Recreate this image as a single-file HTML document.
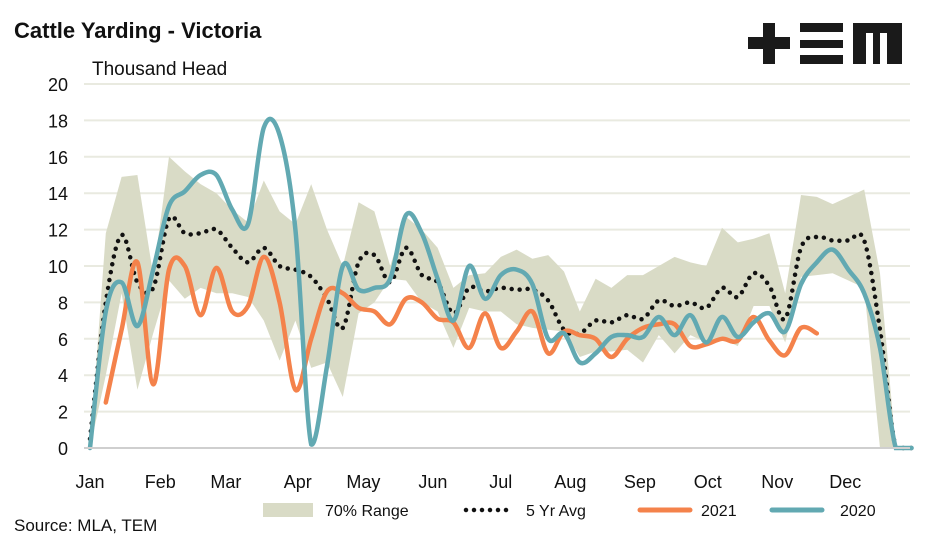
<!DOCTYPE html>
<html><head><meta charset="utf-8"><style>
body{margin:0;background:#fff;font-family:"Liberation Sans",sans-serif}
svg text{font-family:"Liberation Sans",sans-serif;fill:#111}
</style></head><body>
<svg width="947" height="543" viewBox="0 0 947 543">
<text x="14" y="38" font-size="22" font-weight="bold">Cattle Yarding - Victoria</text>
<text x="92" y="75" font-size="19">Thousand Head</text>
<g fill="#1a1a1a">
<rect x="748" y="37" width="42" height="12"/><rect x="763" y="23" width="12" height="41"/>
<rect x="800" y="23" width="43" height="9"/><rect x="800" y="40" width="43" height="8"/><rect x="800" y="55" width="43" height="9"/>
<path d="M853 23H902V64H887V33H880V64H873V33H866V64H853Z"/>
</g>
<g id="grid"></g><g id="band"></g><g id="lines"></g><g id="axes"></g>
<g>
<rect x="263" y="503" width="50" height="14" fill="#d9dbc6"/>
<text x="325" y="516" font-size="16">70% Range</text>
<line x1="466" y1="510" x2="512" y2="510" stroke="#111" stroke-width="4.5" stroke-linecap="round" stroke-dasharray="0 8"/>
<text x="526" y="516" font-size="16">5 Yr Avg</text>
<line x1="640" y1="510" x2="690" y2="510" stroke="#f4824b" stroke-width="5" stroke-linecap="round"/>
<text x="701" y="516" font-size="16">2021</text>
<line x1="772" y1="510" x2="822" y2="510" stroke="#62a9b2" stroke-width="5" stroke-linecap="round"/>
<text x="840" y="516" font-size="16">2020</text>
</g>
<text x="14" y="531" font-size="17">Source: MLA, TEM</text>
</svg>
<script>
const yTicks=[0,2,4,6,8,10,12,14,16,18,20];
const months=["Jan","Feb","Mar","Apr","May","Jun","Jul","Aug","Sep","Oct","Nov","Dec"];
const monthWeeks=[0,4.45,8.6,13.15,17.3,21.7,26,30.4,34.8,39.1,43.5,47.8];
const upper=[0,11.8,14.9,15,9.5,16,15.2,14.5,14,13.1,12.4,14.7,13,12.3,14.5,12,10,13.5,13,10,12.7,12,11,8.8,9.5,9.6,10.5,10.9,10.4,10.6,9.7,7.5,9.3,8.8,9.5,9.5,10,10.5,10.2,10,12.1,11.3,11.5,11.8,8.5,13.9,13.8,13.4,13.8,14.2,9.6,0,0];
const lower=[0,4,8.5,3.2,6.3,9.2,8.2,8.8,8.5,8.5,8.3,7,4.8,7,4.4,4.7,2.8,7.4,8,9.3,9.2,8,7.5,5.5,7.7,7.5,7.5,6.8,6.6,6.5,6.4,5.0,5.3,5.3,5.4,4.7,6.2,5.2,6.2,5.8,6.0,5.6,7.8,7.8,5.8,9.4,9.5,9.6,9.2,8.8,0,0,0];
const avg5=[0.5,8,11.7,9.1,8.8,12.6,11.8,11.8,12,11,10.2,11,10,9.8,9.4,8.2,6.6,10.2,10.6,9.1,11,9.5,9.1,7.4,8.8,8.6,8.8,8.7,8.7,8.1,6.5,6.3,7.0,6.9,7.3,7.1,8.1,7.8,8.0,7.7,8.8,8.3,9.6,8.9,7.1,11.0,11.6,11.4,11.4,11.4,6.5,0,0];
const y2021=[null,2.5,6.5,10.2,3.5,9.8,10,7.3,9.9,7.5,7.8,10.5,8,3.2,6,8.6,8.5,7.7,7.5,6.8,8.2,8.0,7.1,6.9,5.5,7.4,5.5,6.4,7.5,5.2,6.4,6.2,6.0,5.0,6.0,6.6,6.8,6.8,5.6,5.7,6.0,5.9,7.2,5.9,5.1,6.6,6.3];
const y2020=[0,7.5,9.1,6.7,9.8,13.3,14.1,15,15,13.1,12.3,17.6,17.2,12,0.2,4.5,10,8.7,8.8,9.3,12.8,11.8,9.3,7,10,8.2,9.5,9.8,9.0,6.0,6.3,4.7,5.2,6.1,6.2,6.1,7.2,6.2,7.3,5.8,7.2,6.1,6.9,7.4,6.4,9,10.2,10.9,9.8,8.5,5.5,0,0];
const NS="http://www.w3.org/2000/svg";
const X=w=>90+w*15.8, Y=v=>448-v*18.2;
function mk(t,a,p){const e=document.createElementNS(NS,t);for(const k in a)e.setAttribute(k,a[k]);document.getElementById(p).appendChild(e);return e;}
const cl=y=>Math.min(448,y);
function spline(pts){let d="M"+pts[0][0]+" "+pts[0][1];for(let i=0;i<pts.length-1;i++){const p0=pts[i-1]||pts[i],p1=pts[i],p2=pts[i+1],p3=pts[i+2]||p2;let c1=[p1[0]+(p2[0]-p0[0])/6,cl(p1[1]+(p2[1]-p0[1])/6)],c2=[p2[0]-(p3[0]-p1[0])/6,cl(p2[1]-(p3[1]-p1[1])/6)];if(p1[1]>=447.9&&p2[1]>=447.9){c1[1]=448;c2[1]=448;}d+=" C"+c1[0]+" "+c1[1]+" "+c2[0]+" "+c2[1]+" "+p2[0]+" "+p2[1];}return d;}
function pts(arr){const r=[];arr.forEach((v,i)=>{if(v!==null)r.push([X(i),Y(v)]);});return r;}
yTicks.forEach(t=>{
 if(t>0){const l=mk("line",{x1:84,x2:910,y1:Y(t),y2:Y(t),stroke:"#e9eae0","stroke-width":2},"grid");
 
 }
 const tx=mk("text",{x:68,y:Y(t)+7,"font-size":18,"text-anchor":"end"},"axes");tx.textContent=t;
 
 
});
const base=mk("line",{x1:84,x2:910,y1:448,y2:448,stroke:"#cfcfcf","stroke-width":2},"axes");


months.forEach((m,i)=>{const tx=mk("text",{x:X(monthWeeks[i]),y:488,"font-size":18,"text-anchor":"middle"},"axes");tx.textContent=m;
 
 });
let bd="M"+upper.map((v,i)=>X(i)+" "+Y(v)).join(" L");
for(let i=lower.length-1;i>=0;i--)bd+=" L"+X(i)+" "+Y(lower[i]);
const band=mk("path",{d:bd+"Z",fill:"#d9dbc6"},"band");


const a=mk("path",{d:spline(pts(avg5)),fill:"none",stroke:"#111","stroke-width":4.5,"stroke-linecap":"round","stroke-dasharray":"0 8"},"lines");


const o=mk("path",{d:spline(pts(y2021)),fill:"none",stroke:"#f4824b","stroke-width":4.5,"stroke-linecap":"round"},"lines");


const b=mk("path",{d:spline(pts(y2020)),fill:"none",stroke:"#62a9b2","stroke-width":4.5,"stroke-linecap":"round"},"lines");


</script>
</body></html>
